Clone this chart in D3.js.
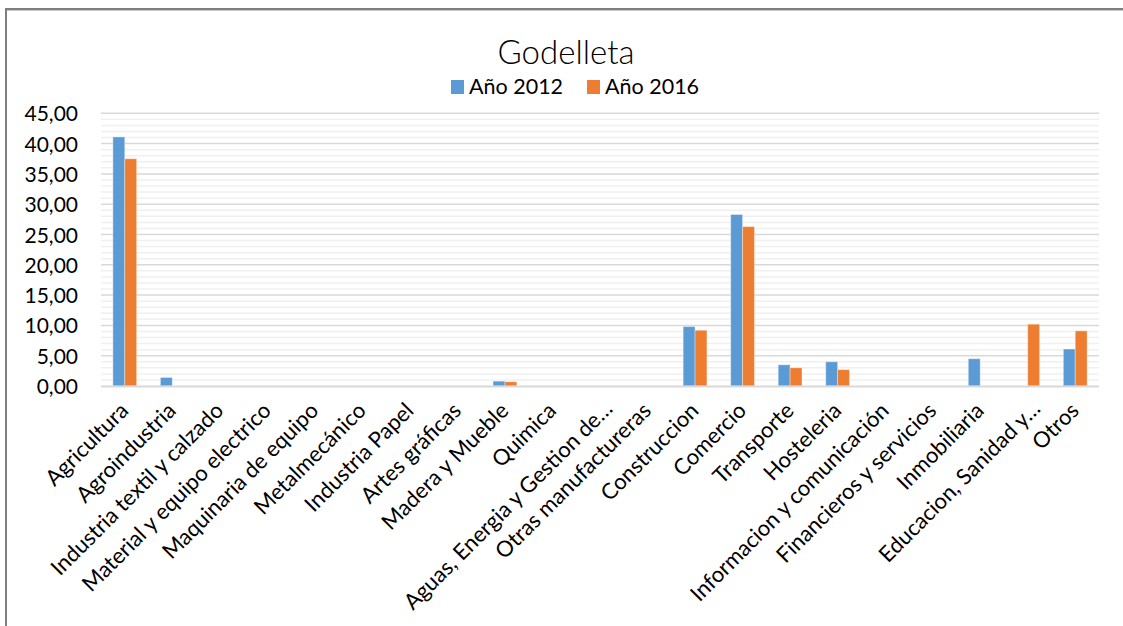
<!DOCTYPE html>
<html><head><meta charset="utf-8">
<script src="https://cdn.jsdelivr.net/npm/d3@7"></script>
<style>
html,body{margin:0;padding:0;background:#fff;}
svg text{font-family:Lato,"Open Sans",sans-serif;fill:#000;}
</style></head>
<body>
<svg id="chart" width="1123" height="626"></svg>
<script>
const categories = ["Agricultura","Agroindustria","Industria textil y calzado","Material y equipo electrico","Maquinaria de equipo","Metalmecánico","Industria Papel","Artes gráficas","Madera y Mueble","Quimica","Aguas, Energia y Gestion de…","Otras manufactureras","Construccion","Comercio","Transporte","Hosteleria","Informacion y comunicación","Financieros y servicios","Inmobiliaria","Educacion, Sanidad y…","Otros"];
const values2012 = [41.1,1.4,0,0,0,0,0,0,0.8,0,0,0,9.8,28.3,3.5,4.0,0,0,4.5,0,6.1];
const values2016 = [37.5,0,0,0,0,0,0,0,0.7,0,0,0,9.2,26.3,3.0,2.7,0,0,0,10.2,9.1];
const seriesNames = ["Año 2012","Año 2016"];
const colors = ["#5b9bd5","#ed7d31"];
const yTicks = [0,5,10,15,20,25,30,35,40,45];

const svg = d3.select("#chart");
const x0 = 101, x1 = 1099, yTop = 113.3, yBot = 386;

// frame
svg.append("rect").attr("x",6).attr("y",9).attr("width",1300).attr("height",1000)
  .attr("fill","none").attr("stroke","#7f7f7f").attr("stroke-width",2);
svg.append("line").attr("x1",7).attr("x2",1123).attr("y1",10.5).attr("y2",10.5).attr("stroke","#c8c8c8").attr("stroke-width",1);

const x = d3.scaleBand().domain(categories).range([x0,x1]).paddingInner(0).paddingOuter(0);
const y = d3.scaleLinear().domain([0,45]).range([yBot,yTop]);
const bw = x.bandwidth()/4;

// gridlines
const g = svg.append("g");
g.selectAll("line.minor").data(d3.range(0,46,1).filter(v=>v%5!==0)).enter().append("line")
  .attr("x1",x0).attr("x2",x1).attr("y1",d=>y(d)).attr("y2",d=>y(d))
  .attr("stroke","#f0f0f0").attr("stroke-width",1.5);
g.selectAll("line.major").data(yTicks.filter(v=>v>0)).enter().append("line")
  .attr("x1",x0).attr("x2",x1).attr("y1",d=>y(d)).attr("y2",d=>y(d))
  .attr("stroke","#d9d9d9").attr("stroke-width",1.5);

// y axis labels
const yAxis = d3.axisLeft(y).tickValues(yTicks).tickSize(0).tickPadding(0)
  .tickFormat(d=>d3.format(".2f")(d).replace(".",","));
const ya = svg.append("g").attr("transform",`translate(78,0)`).call(yAxis);
ya.select(".domain").remove();
ya.selectAll("text").style("font-size","21px").attr("dy","0.36em").attr("fill","#000");

// bars
const series = [values2012, values2016];
series.forEach((vals,si)=>{
  svg.append("g").selectAll("rect").data(categories).enter().append("rect")
    .filter((d,i)=>vals[i]>0)
    .attr("x",d=>x(d)+x.bandwidth()/2 - bw + si*bw)
    .attr("width",bw)
    .attr("y",(d)=>y(vals[categories.indexOf(d)]))
    .attr("height",(d)=>yBot - y(vals[categories.indexOf(d)]))
    .attr("fill",colors[si])
    .attr("stroke","#ffffff").attr("stroke-opacity",0.35).attr("stroke-width",1);
});

// x axis line
svg.append("line").attr("x1",x0).attr("x2",x1).attr("y1",yBot+0.5).attr("y2",yBot+0.5)
  .attr("stroke","#d9d9d9").attr("stroke-width",2);

// x labels
const xAxis = d3.axisBottom(x).tickSize(0).tickPadding(0);
const xa = svg.append("g").call(xAxis);
xa.select(".domain").remove();
xa.selectAll(".tick").attr("transform",d=>{
  const trunc = d.endsWith("…");
  return `translate(${x(d)+x.bandwidth()/2+(trunc?14:5)},${trunc?410:412})`;
});
xa.selectAll("text").attr("y",0).attr("dy","0").attr("text-anchor","end")
  .attr("transform","rotate(-45)").style("font-size","22px").attr("fill","#000");

// title
svg.append("text").attr("x",566).attr("y",64).attr("text-anchor","middle")
  .style("font-size","33px").style("font-weight","300").text("Godelleta");

// legend
const leg = svg.append("g");
const legX = [451, 587];
seriesNames.forEach((n,i)=>{
  leg.append("rect").attr("x",legX[i]).attr("y",80).attr("width",13).attr("height",14).attr("fill",colors[i]);
  leg.append("text").attr("x",legX[i]+18).attr("y",94).style("font-size","21.5px").text(n);
});
</script>
</body></html>
